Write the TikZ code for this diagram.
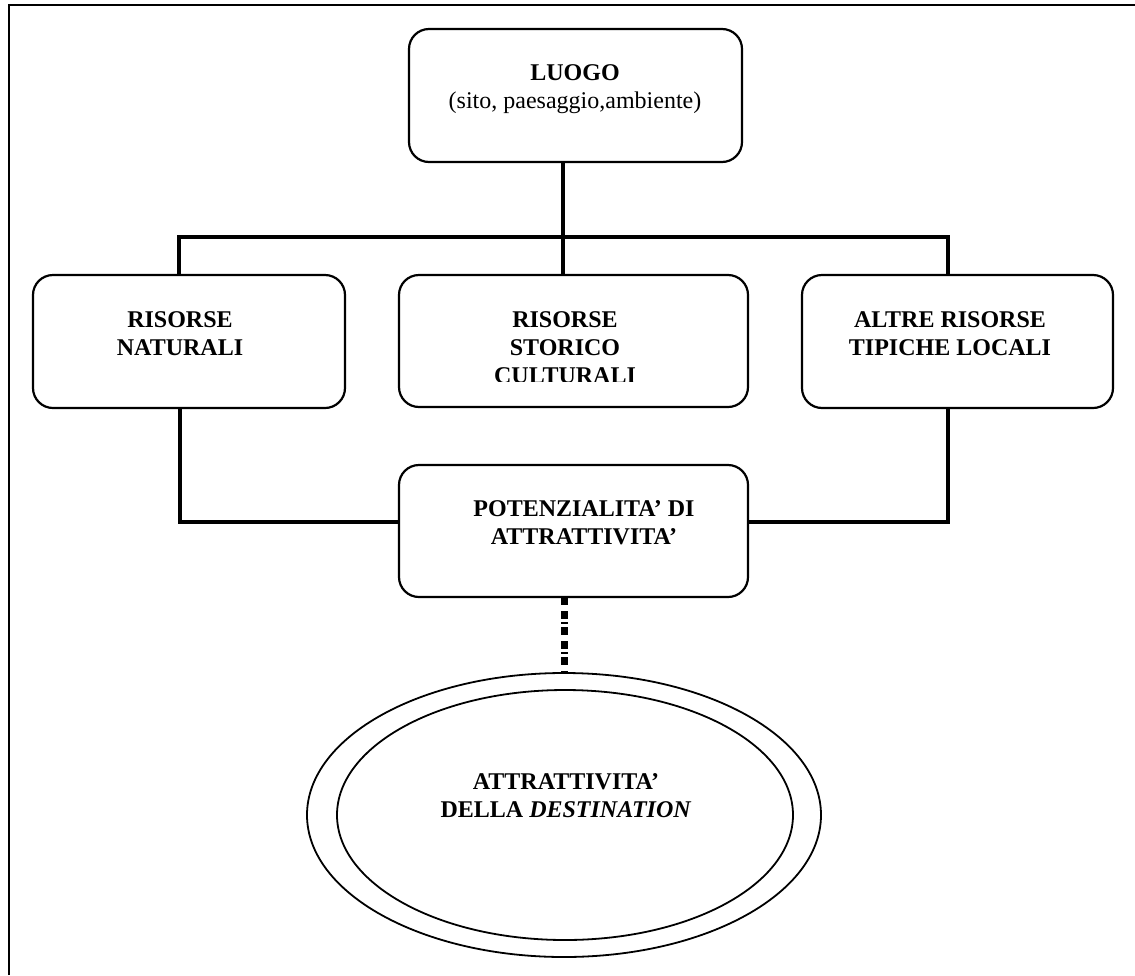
\documentclass[tikz,border=0pt]{standalone}
\usepackage{fontspec}
\setmainfont{Liberation Serif}
\usetikzlibrary{shapes.geometric}
\begin{document}
\begin{tikzpicture}[x=0.5pt,y=-0.5pt,
  box/.style={draw,line width=1.1pt,rounded corners=10pt,inner sep=0pt,outer sep=0pt},
  lbl/.style={anchor=base,align=center,inner sep=0pt,font=\fontsize{12}{13.8}\selectfont\bfseries},
  link/.style={line width=1.6pt},
  ring/.style={draw,ellipse,line width=0.9pt,inner sep=0pt,outer sep=0pt}]
\useasboundingbox (0,0) rectangle (1135,975);
% page frame (left and top edges)
\draw[line width=1.2pt] (9,975) -- (9,5) -- (1135,5);

% boxes
\node[box,minimum width=166.5pt,minimum height=66.5pt] (luogo) at (575.5,95.5) {};
\node[box,minimum width=156pt,minimum height=66.5pt] (nat) at (189,341.5) {};
\node[box,minimum width=174.5pt,minimum height=66pt] (stor) at (573.5,341) {};
\node[box,minimum width=155.5pt,minimum height=66.5pt] (altre) at (957.5,341.5) {};
\node[box,minimum width=174.5pt,minimum height=66pt] (pot) at (573.5,531) {};
\node[ring,minimum width=257pt,minimum height=142pt] (outer) at (564,815) {};
\node[ring,minimum width=228pt,minimum height=125pt] (inner) at (565,815) {};

% labels (anchored at the baseline of their last line)
\node[lbl] (luogo-t) at (575,108) {LUOGO\\\mdseries(sito, paesaggio,ambiente)};
\node[lbl] (nat-t) at (180,355) {RISORSE\\NATURALI};
\begin{scope}
  \clip (400,280) rectangle (746,381);
  \node[lbl] (stor-t) at (565,383) {RISORSE\\STORICO\\CULTURALI};
\end{scope}
\node[lbl] (altre-t) at (950,355) {ALTRE RISORSE\\TIPICHE LOCALI};
\node[lbl] (pot-t) at (584,544) {POTENZIALITA’ DI\\ATTRATTIVITA’};
\node[lbl] (dest-t) at (566,817) {ATTRATTIVITA’\\DELLA \textit{DESTINATION}};

% connectors
\coordinate (barL) at (179,237);
\coordinate (barR) at (948,237);
\coordinate (barM) at (563,237);
\coordinate (jl) at (180,522);
\coordinate (jr) at (948,522);
\draw[link] (luogo.south -| barM) -- (barM);
\draw[link] (barL |- nat.north) -- (barL) -- (barR) -- (barR |- altre.north);
\draw[link] (barM) -- (barM |- stor.north);
\draw[link] (jl |- nat.south) -- (jl) -- (pot.west |- jl);
\draw[link] (jr |- altre.south) -- (jr) -- (pot.east |- jr);
\draw[line width=3.5pt,dash pattern=on 4pt off 3pt on 4pt off 1.5pt on 1pt off 1.5pt]
  (564,597) -- (outer.north);
\end{tikzpicture}
\end{document}
